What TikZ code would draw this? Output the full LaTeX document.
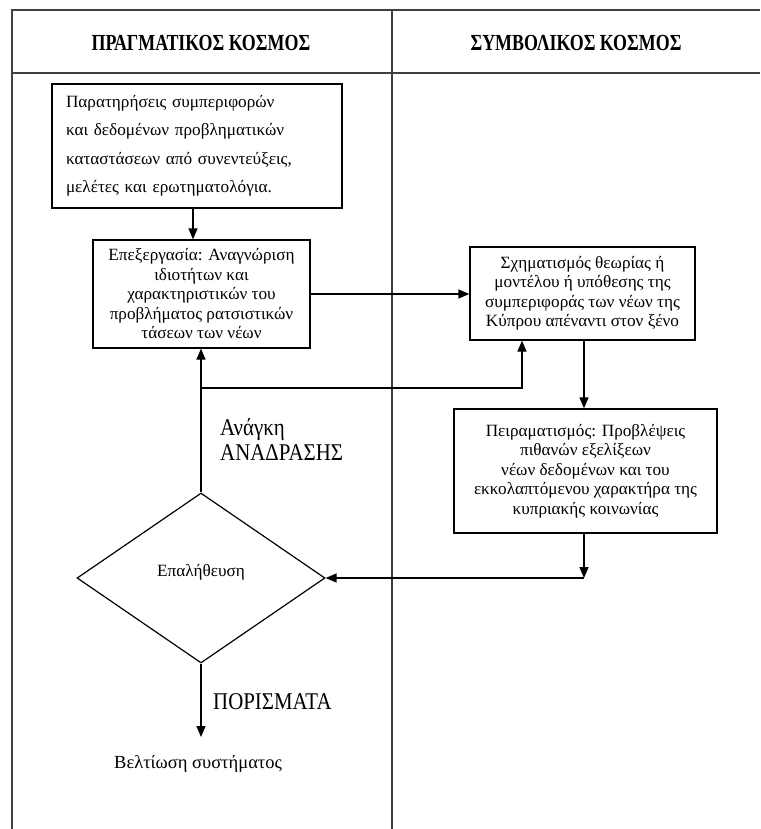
\documentclass[tikz,border=0pt]{standalone}
\usepackage{fontspec}
\setmainfont{Liberation Serif}
\newfontfamily\condfont{Liberation Serif}[FakeStretch=0.87]
\newfontfamily\headfont{Liberation Serif}[FakeStretch=0.78]
\usetikzlibrary{arrows.meta,shapes.geometric}
\begin{document}
\begin{tikzpicture}[x=1pt,y=-1pt,
  tableline/.style={line width=1.2pt,draw=black!75},
  arr/.style={line width=1.3pt,-{Triangle[length=11pt,width=9pt]}},
  box/.style={draw,line width=1.3pt,inner sep=0pt,align=center,
    font=\fontsize{17.2}{19.5}\selectfont},
  head/.style={inner sep=0pt,font=\headfont\bfseries\fontsize{23}{26}\selectfont},
  biglabel/.style={inner sep=0pt,align=left,font=\condfont\fontsize{24}{25}\selectfont},
  bodylabel/.style={inner sep=0pt,font=\fontsize{18.5}{20}\selectfont}]
\useasboundingbox (0,0) rectangle (760,829);
% table
\draw[tableline] (12,829) -- (12,10) -- (760,10);
\draw[tableline] (12,73) -- (760,73);
\draw[tableline] (392,10) -- (392,829);
\node[head] (h1) at (201,43) {ΠΡΑΓΜΑΤΙΚΟΣ ΚΟΣΜΟΣ};
\node[head] (h2) at (576,43) {ΣΥΜΒΟΛΙΚΟΣ ΚΟΣΜΟΣ};
% boxes
\node[box,minimum width=290pt,minimum height=124pt,align=left,
  font=\fontsize{17.2}{28.5}\selectfont,text width=262pt,inner xsep=14pt] (b1) at (197,146)
  {Παρατηρήσεις συμπεριφορών\\και δεδομένων προβληματικών\\καταστάσεων από συνεντεύξεις,\\μελέτες και ερωτηματολόγια.};
\node[box,minimum width=217pt,minimum height=108pt] (b2) at (201.5,294)
  {Επεξεργασία: Αναγνώριση\\ιδιοτήτων και\\χαρακτηριστικών του\\προβλήματος ρατσιστικών\\τάσεων των νέων};
\node[box,minimum width=225pt,minimum height=93pt] (b3) at (582.5,293.5)
  {Σχηματισμός θεωρίας ή\\μοντέλου ή υπόθεσης της\\συμπεριφοράς των νέων της\\Κύπρου απέναντι στον ξένο};
\node[box,minimum width=263pt,minimum height=124pt] (b4) at (585.5,471)
  {Πειραματισμός: Προβλέψεις\\πιθανών εξελίξεων\\νέων δεδομένων και του\\εκκολαπτόμενου χαρακτήρα της\\κυπριακής κοινωνίας};
\node[draw,diamond,line width=1.2pt,minimum width=248pt,minimum height=170pt,inner sep=0pt] (d) at (201,578) {};
\node[inner sep=0pt,font=\fontsize{17.2}{19.5}\selectfont] (dl) at (201,572) {Επαλήθευση};
% labels
\node[biglabel,anchor=north west] (l1) at (220,418) {Ανάγκη\\ΑΝΑΔΡΑΣΗΣ};
\node[biglabel,anchor=base west] (l2) at (213,709) {ΠΟΡΙΣΜΑΤΑ};
\node[bodylabel,anchor=base west] (l3) at (114,768) {Βελτίωση συστήματος};
% connectors
\coordinate (c1) at (584,578);
\coordinate (c2) at (201,737);
\coordinate (f1) at (201,388);
\draw[arr] ([xshift=-4pt]b1.south) -- ([xshift=-4pt]b1.south |- b2.north);
\draw[arr] (b2.east) -- (b2.east -| b3.west);
\draw[arr] ([xshift=1.5pt]b3.south) -- ([xshift=1.5pt]b3.south |- b4.north);
\draw[arr] ([xshift=-1.5pt]b4.south) -- (c1);
\draw[arr] (c1) -- (d.east);
\draw[arr] (d.north) -- (d.north |- b2.south);
\draw[arr] (f1) -| ([xshift=-60.5pt]b3.south);
\draw[arr] (d.south) -- (c2);
\end{tikzpicture}
\end{document}
